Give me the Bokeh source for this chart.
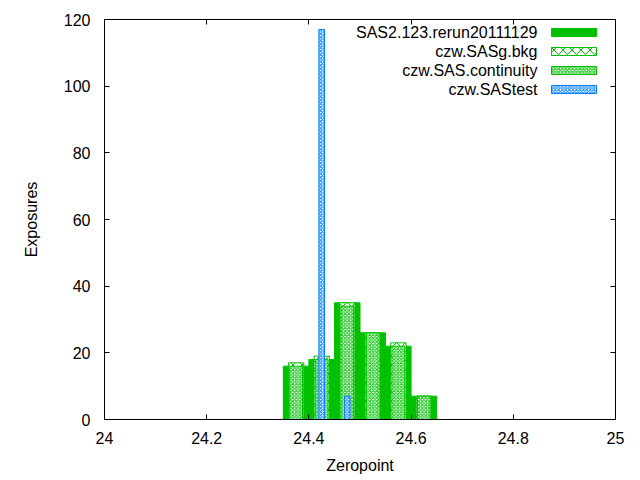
from bokeh.plotting import figure
from bokeh.models import FixedTicker, LinearAxis, Range1d, Label, BoxAnnotation, CustomLabelingPolicy
from bokeh.embed import file_html
from bokeh.resources import INLINE

# ---- data ----
bin_centers = [24.375, 24.425, 24.475, 24.525, 24.575, 24.625]
rerun_counts = [16, 18, 35, 26, 22, 7]
bkg_counts = [17, 19, 35, 26, 23, 7]
continuity_counts = [16, 18, 34, 26, 22, 7]
test_centers = [24.425, 24.475]
test_counts = [117, 7]

series_names = ["SAS2.123.rerun20111129", "czw.SASg.bkg", "czw.SAS.continuity", "czw.SAStest"]

x_ticks = [24, 24.2, 24.4, 24.6, 24.8, 25]
x_tick_labels = ["24", "24.2", "24.4", "24.6", "24.8", "25"]
y_ticks = [0, 20, 40, 60, 80, 100, 120]
y_tick_labels = ["0", "20", "40", "60", "80", "100", "120"]

GREEN = "#00c000"
BLUE = "#0080ff"
FONT = "Liberation Sans"
FS = "16px"

p = figure(width=640, height=480, output_backend="svg", toolbar_location=None,
           x_range=Range1d(24, 25), y_range=Range1d(0, 120),
           min_border_left=104, min_border_right=25, min_border_top=19, min_border_bottom=61)
p.background_fill_color = "white"
p.border_fill_color = "white"
p.outline_line_color = "black"
p.outline_line_width = 1
p.grid.visible = False

# bars
p.vbar(x=bin_centers, top=rerun_counts, width=0.05, bottom=0,
       fill_color=GREEN, line_color=GREEN, line_width=1)
p.vbar(x=bin_centers, top=bkg_counts, width=0.03, bottom=0,
       fill_color="white", line_color=GREEN, line_width=1,
       hatch_pattern="x", hatch_color=GREEN, hatch_scale=9, hatch_weight=1)
p.vbar(x=bin_centers, top=continuity_counts, width=0.025, bottom=0,
       fill_color="white", line_color=GREEN, line_width=1,
       hatch_pattern="x", hatch_color=GREEN, hatch_scale=3.5, hatch_weight=1)
p.vbar(x=test_centers, top=test_counts, width=0.011, bottom=0,
       fill_color="white", line_color=BLUE, line_width=1,
       hatch_pattern="x", hatch_color=BLUE, hatch_scale=3.5, hatch_weight=1)

hide_all = CustomLabelingPolicy(code="""
for (const i of Array.from(indices)) { indices.unset(i) }
return indices
""")

def style_axis(ax, ticks, labels, show_labels=True):
    ax.ticker = FixedTicker(ticks=ticks)
    ax.major_label_overrides = {t: l for t, l in zip(ticks, labels)}
    ax.major_tick_in = 5
    ax.major_tick_out = 0
    ax.minor_tick_line_color = None
    ax.axis_line_color = "black"
    ax.major_tick_line_color = "black"
    ax.major_label_text_font = FONT
    ax.major_label_text_color = "black"
    if show_labels:
        ax.major_label_text_font_size = FS
    else:
        ax.major_label_text_font_size = "1px"
        ax.major_label_standoff = 0
        ax.major_label_policy = hide_all

xa = p.xaxis[0]
style_axis(xa, x_ticks, x_tick_labels)
xa.major_label_standoff = 12
xa.axis_label = "Zeropoint"
xa.axis_label_text_font = FONT
xa.axis_label_text_font_size = FS
xa.axis_label_text_font_style = "normal"
xa.axis_label_text_color = "black"
xa.axis_label_standoff = 10

ya = p.yaxis[0]
style_axis(ya, y_ticks, y_tick_labels)
ya.major_label_standoff = 14
ya.axis_label = "Exposures"
ya.axis_label_text_font = FONT
ya.axis_label_text_font_size = FS
ya.axis_label_text_font_style = "normal"
ya.axis_label_text_color = "black"
ya.axis_label_standoff = 21

top_ax = LinearAxis()
style_axis(top_ax, x_ticks, x_tick_labels, show_labels=False)
p.add_layout(top_ax, "above")
right_ax = LinearAxis()
style_axis(right_ax, y_ticks, y_tick_labels, show_labels=False)
p.add_layout(right_ax, "right")

# legend (gnuplot style: text right-aligned, swatch on the right)
row_y = [387, 368, 349, 330]
styles = [
    dict(fill_color=GREEN, line_color=GREEN),
    dict(fill_color="white", line_color=GREEN, hatch_pattern="x", hatch_color=GREEN, hatch_scale=9, hatch_weight=1),
    dict(fill_color="white", line_color=GREEN, hatch_pattern="x", hatch_color=GREEN, hatch_scale=3.5, hatch_weight=1),
    dict(fill_color="white", line_color=BLUE, hatch_pattern="x", hatch_color=BLUE, hatch_scale=3.5, hatch_weight=1),
]
for name, yy, st in zip(series_names, row_y, styles):
    p.add_layout(Label(x=433, y=yy, x_units="screen", y_units="screen", text=name,
                       text_align="right", text_baseline="middle",
                       text_font=FONT, text_font_size=FS, text_color="black"))
    p.add_layout(BoxAnnotation(left=447, right=492, bottom=yy - 4, top=yy + 4,
                               left_units="screen", right_units="screen",
                               bottom_units="screen", top_units="screen",
                               fill_alpha=1.0, line_alpha=1.0, line_width=1, **st))

open("out.html", "w").write(file_html(p, INLINE))
